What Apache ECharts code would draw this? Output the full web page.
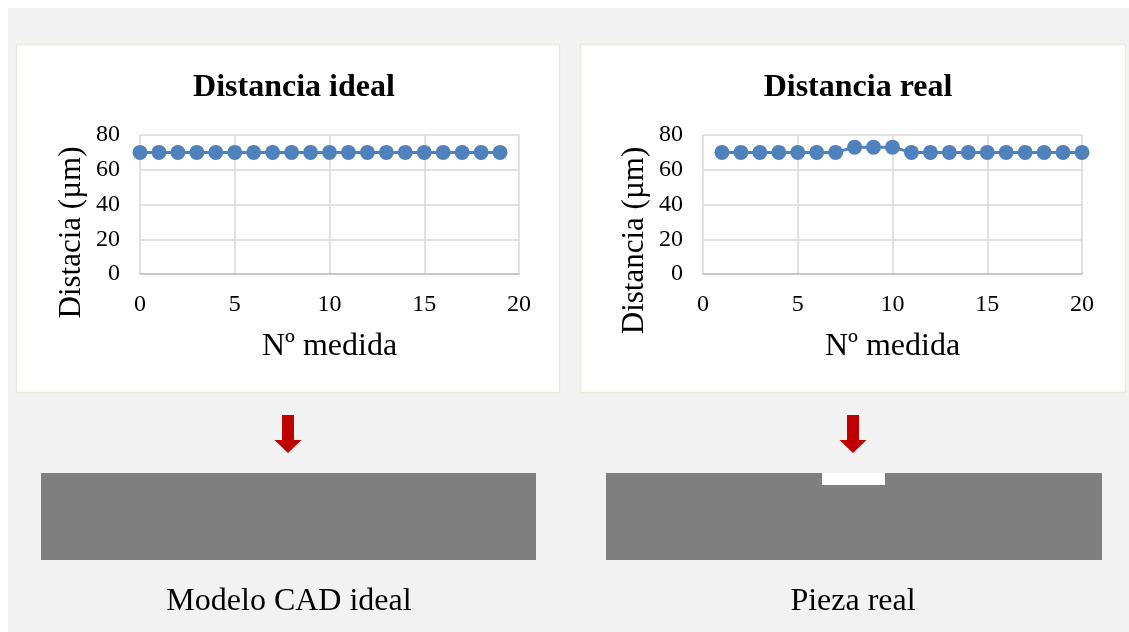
<!DOCTYPE html>
<html>
<head>
<meta charset="utf-8">
<script src="https://cdn.jsdelivr.net/npm/echarts@6/dist/echarts.min.js"></script>
<style>
html,body{margin:0;padding:0;background:#ffffff;}
#chart{width:1129px;height:632px;}
</style>
</head>
<body>
<div id="chart"></div>
<script>
// Data
const idealX = [0,1,2,3,4,5,6,7,8,9,10,11,12,13,14,15,16,17,18,19];
const idealY = [70,70,70,70,70,70,70,70,70,70,70,70,70,70,70,70,70,70,70,70];
const realX = [1,2,3,4,5,6,7,8,9,10,11,12,13,14,15,16,17,18,19,20];
const realY = [70,70,70,70,70,70,70,73,73,73,70,70,70,70,70,70,70,70,70,70];
const titles = ['Distancia ideal', 'Distancia real'];
const yNames = ['Distacia (µm)', 'Distancia (µm)'];
const xName = 'Nº medida';
const captions = ['Modelo CAD ideal', 'Pieza real'];

const FONT = '"Liberation Serif", "Times New Roman", serif';
const BLUE = '#4f81bd';
const GRID = '#d9d9d9';
const yNameShift = [56, 72];

const chart = echarts.init(document.getElementById('chart'), null, {renderer: 'canvas'});

function pairs(xs, ys) { return xs.map((x, i) => [x, ys[i]]); }

function xAxisDef(gi) {
  return {
    gridIndex: gi, type: 'value', min: 0, max: 20, interval: 5,
    name: xName, nameLocation: 'middle', nameGap: 57,
    nameTextStyle: {fontFamily: FONT, fontSize: 32, color: '#000'},
    axisLine: {show: true, lineStyle: {color: '#bfbfbf', width: 1.5}},
    axisTick: {show: false},
    axisLabel: {fontFamily: FONT, fontSize: 24, color: '#000', margin: 19},
    splitLine: {show: true, lineStyle: {color: GRID, width: 1.5}}
  };
}
function yAxisDef(gi) {
  return {
    gridIndex: gi, type: 'value', min: 0, max: 80, interval: 20,
    name: yNames[gi], nameLocation: 'middle', nameGap: 53, nameRotate: 90,
    nameTextStyle: {fontFamily: FONT, fontSize: 31, color: '#000', padding: [0, yNameShift[gi], 0, 0]},
    axisLine: {show: false},
    axisTick: {show: false},
    axisLabel: {fontFamily: FONT, fontSize: 24, color: '#000', margin: 20},
    splitLine: {show: true, lineStyle: {color: GRID, width: 1.5}}
  };
}

function arrow(cx) {
  return {
    type: 'polygon',
    shape: {points: [[cx-6,415],[cx+6,415],[cx+6,440],[cx+13.5,440],[cx,453],[cx-13.5,440],[cx-6,440]]},
    style: {fill: '#c00000'}
  };
}

const option = {
  backgroundColor: '#ffffff',
  animation: false,
  title: [
    {text: titles[0], left: 289, top: 67, textAlign: 'center',
     textStyle: {fontFamily: FONT, fontSize: 32, fontWeight: 'bold', color: '#000'}},
    {text: titles[1], left: 853, top: 67, textAlign: 'center',
     textStyle: {fontFamily: FONT, fontSize: 32, fontWeight: 'bold', color: '#000'}}
  ],
  graphic: [
    {type: 'rect', z: -10, shape: {x: 8, y: 8, width: 1121, height: 624}, style: {fill: '#f2f2f2'}},
    {type: 'rect', z: -9, shape: {x: 16.5, y: 44.5, width: 543, height: 348}, style: {fill: '#ffffff', stroke: '#ebe9dc', lineWidth: 1.5}},
    {type: 'rect', z: -9, shape: {x: 580.5, y: 44.5, width: 545, height: 348}, style: {fill: '#ffffff', stroke: '#ebe9dc', lineWidth: 1.5}},
    arrow(288),
    arrow(853),
    {type: 'rect', shape: {x: 41, y: 473, width: 495, height: 87}, style: {fill: '#7f7f7f'}},
    {type: 'rect', shape: {x: 606, y: 473, width: 496, height: 87}, style: {fill: '#7f7f7f'}},
    {type: 'rect', shape: {x: 822, y: 473, width: 63, height: 12}, style: {fill: '#ffffff'}},
    {type: 'text', x: 289, y: 602, style: {text: captions[0], font: '32px ' + FONT, fill: '#000', textAlign: 'center', textVerticalAlign: 'middle'}},
    {type: 'text', x: 853, y: 602, style: {text: captions[1], font: '32px ' + FONT, fill: '#000', textAlign: 'center', textVerticalAlign: 'middle'}}
  ],
  grid: [
    {left: 140, top: 135, width: 379, height: 139},
    {left: 703, top: 135, width: 379, height: 139}
  ],
  xAxis: [xAxisDef(0), xAxisDef(1)],
  yAxis: [yAxisDef(0), yAxisDef(1)],
  series: [
    {type: 'line', xAxisIndex: 0, yAxisIndex: 0, data: pairs(idealX, idealY),
     symbol: 'circle', symbolSize: 15, itemStyle: {color: BLUE}, lineStyle: {color: BLUE, width: 3}},
    {type: 'line', xAxisIndex: 1, yAxisIndex: 1, data: pairs(realX, realY),
     symbol: 'circle', symbolSize: 15, itemStyle: {color: BLUE}, lineStyle: {color: BLUE, width: 3}}
  ]
};
chart.setOption(option);
</script>
</body>
</html>
